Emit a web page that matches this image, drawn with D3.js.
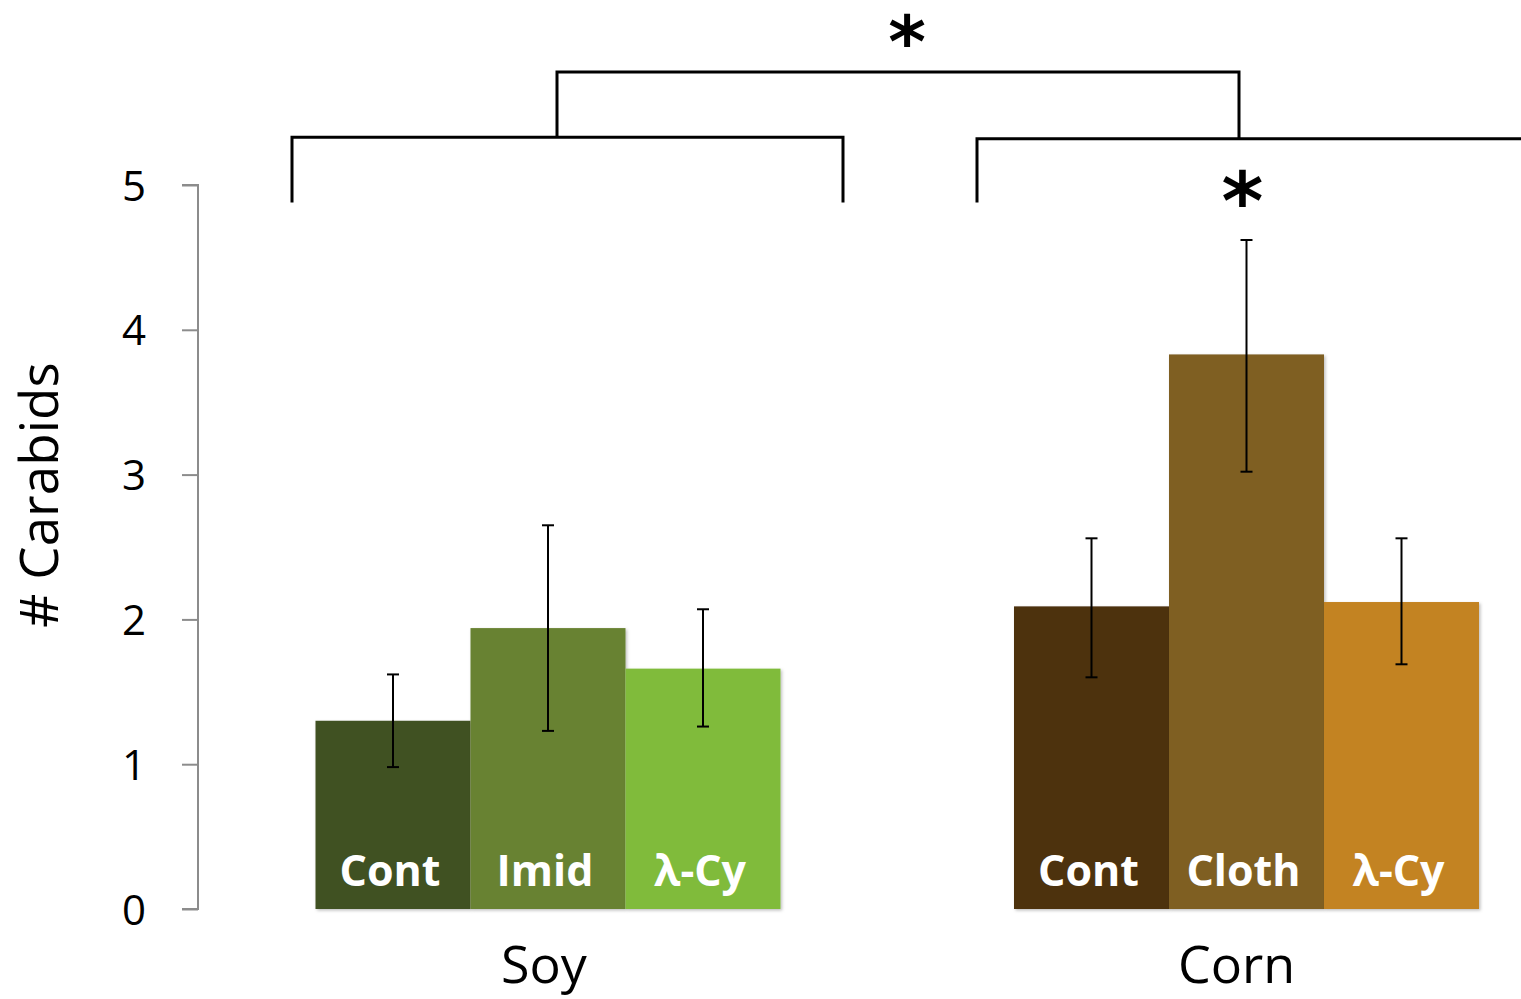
<!DOCTYPE html>
<html>
<head>
<meta charset="utf-8">
<script src="https://cdn.jsdelivr.net/npm/d3@7"></script>
<style>
  html, body { margin: 0; padding: 0; background: #ffffff; }
  svg { display: block; }
</style>
</head>
<body>
<svg id="chart" width="1521" height="999"></svg>
<script>
// Mean carabid counts per treatment, with the error bar ends
const groups = ["Soy", "Corn"];
const soyTreatments = ["Cont", "Imid", "λ-Cy"];
const cornTreatments = ["Cont", "Cloth", "λ-Cy"];
const soyMeans = [1.30, 1.94, 1.66];
const cornMeans = [2.09, 3.83, 2.12];
const soyUpper = [1.62, 2.65, 2.07];
const soyLower = [0.98, 1.23, 1.26];
const cornUpper = [2.56, 4.62, 2.56];
const cornLower = [1.60, 3.02, 1.69];
const soyColors = ["#415121", "#678230", "#80bb3a"];
const cornColors = ["#4d3210", "#7f5e24", "#c38322"];
const yTicks = [0, 1, 2, 3, 4, 5];

const svg = d3.select("#chart");
const font = "'Open Sans', 'DejaVu Sans', sans-serif";

const y = d3.scaleLinear().domain([0, 5]).range([909, 185]);
const groupX = d3.scalePoint().domain(groups).range([548, 1246.5]);
const groupWidth = 465;
const inner = d3.scaleBand().domain([0, 1, 2]).range([-groupWidth / 2, groupWidth / 2]);

const data = [
  { group: "Soy", names: soyTreatments, means: soyMeans, up: soyUpper, lo: soyLower, colors: soyColors, shift: -4 },
  { group: "Corn", names: cornTreatments, means: cornMeans, up: cornUpper, lo: cornLower, colors: cornColors, shift: -10 }
];

// soft drop shadow under the bars
const defs = svg.append("defs");
const f = defs.append("filter").attr("id", "shadow").attr("x", "-5%").attr("y", "-5%").attr("width", "115%").attr("height", "115%");
f.append("feDropShadow").attr("dx", 1.5).attr("dy", 1.5).attr("stdDeviation", 1.5).attr("flood-color", "#000").attr("flood-opacity", 0.25);

// y axis
const axis = d3.axisLeft(y).tickValues(yTicks).tickSize(16).tickPadding(36).tickFormat(d3.format("d"));
const ax = svg.append("g").attr("transform", "translate(198,0)").call(axis);
ax.select(".domain").attr("stroke", "#8c8c8c").attr("stroke-width", 2).attr("d", `M-16,${y(5)}H0V${y(0)}H-16`);
ax.selectAll(".tick line").attr("stroke", "#8c8c8c").attr("stroke-width", 2);
ax.selectAll(".tick text").attr("font-family", font).attr("font-size", 42).attr("fill", "#000").attr("dy", "0.36em");

svg.append("text")
  .attr("transform", `translate(58,495) rotate(-90)`)
  .attr("text-anchor", "middle")
  .attr("font-family", font).attr("font-size", 53).attr("fill", "#000")
  .text("# Carabids");

// bars, labels and error bars
data.forEach(g => {
  const gx = groupX(g.group);
  const gg = svg.append("g");
  gg.selectAll("rect").data(g.means).join("rect")
    .attr("x", (d, i) => gx + inner(i))
    .attr("width", inner.bandwidth())
    .attr("y", d => y(d))
    .attr("height", d => y(0) - y(d))
    .attr("fill", (d, i) => g.colors[i])
    .attr("filter", "url(#shadow)");
  gg.selectAll("text.lbl").data(g.names).join("text").attr("class", "lbl")
    .attr("x", (d, i) => gx + inner(i) + inner.bandwidth() / 2 - 3)
    .attr("y", y(0) - 23)
    .attr("text-anchor", "middle")
    .attr("font-family", font).attr("font-weight", 700).attr("font-size", 43)
    .attr("fill", "#fff")
    .text(d => d);
  g.means.forEach((m, i) => {
    const cx = gx + inner(i) + inner.bandwidth() / 2;
    const eb = gg.append("g").attr("stroke", "#000").attr("stroke-width", 2);
    eb.append("line").attr("x1", cx).attr("x2", cx).attr("y1", y(g.up[i])).attr("y2", y(g.lo[i]));
    eb.append("line").attr("x1", cx - 6).attr("x2", cx + 6).attr("y1", y(g.up[i])).attr("y2", y(g.up[i]));
    eb.append("line").attr("x1", cx - 6).attr("x2", cx + 6).attr("y1", y(g.lo[i])).attr("y2", y(g.lo[i]));
  });
  svg.append("text")
    .attr("x", gx + g.shift).attr("y", 983)
    .attr("text-anchor", "middle")
    .attr("font-family", font).attr("font-size", 52).attr("fill", "#000")
    .text(g.group);
});

// significance brackets
const br = svg.append("g").attr("fill", "none").attr("stroke", "#000").attr("stroke-width", 3);
const soyC = groupX("Soy"), cornC = groupX("Corn");
const legLow = y(4.88), soyTop = y(5.33), cornTop = y(5.32), overTop = y(5.78);
br.append("path").attr("d", `M${soyC - 256},${legLow}V${soyTop}H${soyC + 295}V${legLow}`);
br.append("path").attr("d", `M${cornC - 269.5},${legLow}V${cornTop}H${cornC + 290}`);
br.append("path").attr("d", `M${soyC + 9},${soyTop}V${overTop}H${cornC - 7.5}V${cornTop}`);

svg.append("text").attr("x", 907).attr("y", 67)
  .attr("text-anchor", "middle").attr("font-family", "'DejaVu Sans', sans-serif").attr("font-weight", 700)
  .attr("font-size", 72).attr("fill", "#000").text("*");
svg.append("text").attr("x", cornC - 4).attr("y", 229)
  .attr("text-anchor", "middle").attr("font-family", "'DejaVu Sans', sans-serif").attr("font-weight", 700)
  .attr("font-size", 80).attr("fill", "#000").text("*");
</script>
</body>
</html>
